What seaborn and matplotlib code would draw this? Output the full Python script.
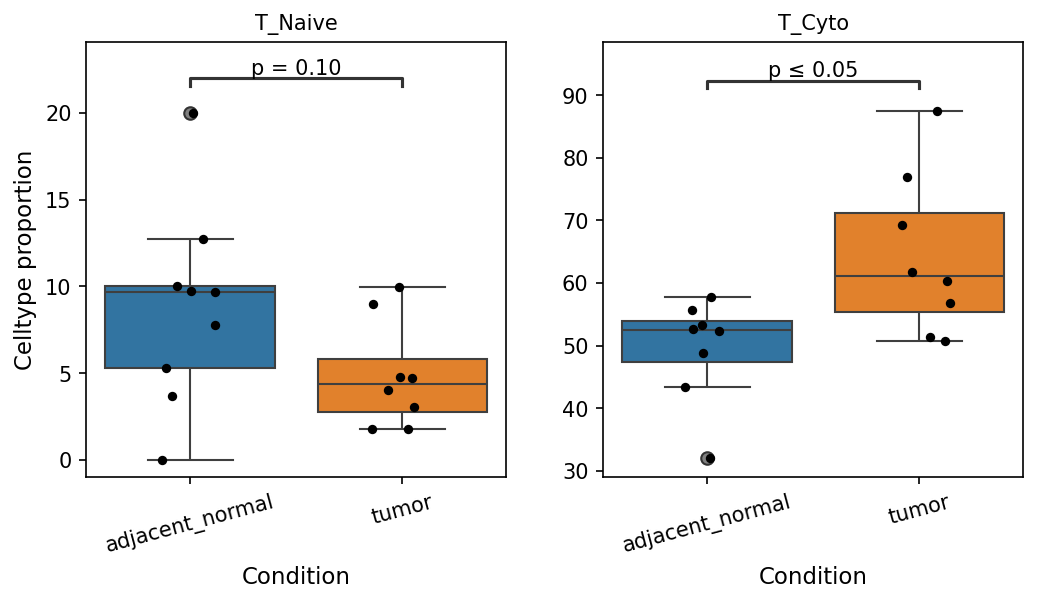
import numpy as np
import pandas as pd
import matplotlib
matplotlib.use("agg")
import matplotlib.pyplot as plt
import seaborn as sns

CONDITIONS = ["adjacent_normal", "tumor"]
naive_adj = [20.0, 12.75, 10.0, 9.75, 9.7, 7.75, 5.3, 3.7, 0.0]
naive_tum = [9.95, 9.0, 4.75, 4.7, 4.0, 3.05, 1.8, 1.75]
cyto_adj = [57.8, 55.7, 53.3, 52.7, 52.4, 48.8, 43.4, 32.0]
cyto_tum = [87.5, 76.9, 69.3, 61.8, 60.3, 56.8, 51.3, 50.8]

panels = [
    ("T_Naive", naive_adj, naive_tum, "p = 0.10", 22.0, 0.45, (-1, 24.1), [0, 5, 10, 15, 20]),
    ("T_Cyto", cyto_adj, cyto_tum, "p ≤ 0.05", 92.3, 1.2, (29, 98.5), [30, 40, 50, 60, 70, 80, 90]),
]

np.random.seed(3)
fig, axes = plt.subplots(1, 2, figsize=(6.92, 4.03), dpi=150)
for ax, (title, adj, tum, ptxt, by, bh, ylim, yt) in zip(axes, panels):
    df = pd.DataFrame({
        "Condition": ["adjacent_normal"] * len(adj) + ["tumor"] * len(tum),
        "Celltype proportion": adj + tum,
    })
    sns.boxplot(data=df, x="Condition", y="Celltype proportion", hue="Condition",
                order=CONDITIONS, palette=["tab:blue", "tab:orange"], ax=ax,
                linewidth=1, flierprops={"markerfacecolor": "gray", "markeredgecolor": "#333333"})
    sns.stripplot(data=df, x="Condition", y="Celltype proportion", order=CONDITIONS,
                  color="black", size=4.5, jitter=0.15, ax=ax)
    ax.plot([0, 0, 1, 1], [by - bh, by, by, by - bh], color="#333333", lw=1.5)
    ax.text(0.5, by, ptxt, ha="center", va="bottom", fontsize=10)
    ax.set_ylim(*ylim)
    ax.set_yticks(yt)
    ax.set_title(title, fontsize=10)
    ax.tick_params(axis="x", rotation=15)
    ax.tick_params(labelsize=10)
    ax.set_xlabel("Condition", fontsize=11)
axes[0].set_ylabel("Celltype proportion", fontsize=11)
axes[1].set_ylabel("")
fig.subplots_adjust(left=0.083, right=0.986, top=0.93, bottom=0.21, wspace=0.23)
fig.savefig("out.png")
